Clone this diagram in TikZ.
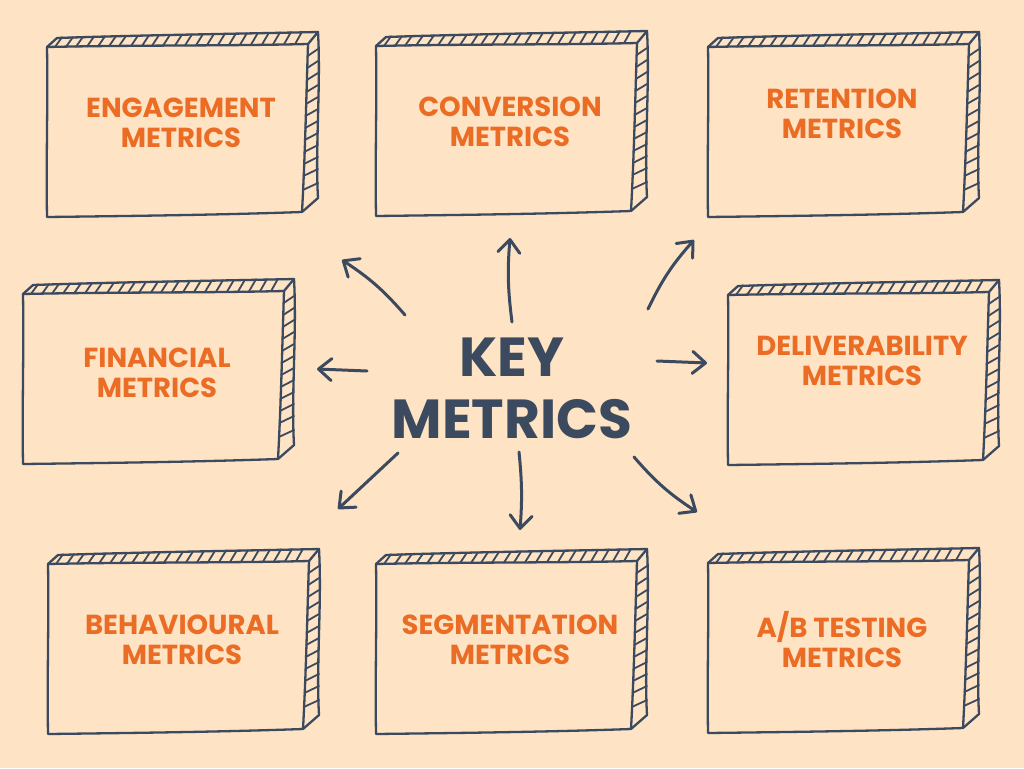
\documentclass[tikz,border=0pt]{standalone}
\usepackage{fontspec}
\setmainfont{Poppins}
\usetikzlibrary{arrows.meta}
\definecolor{peachBg}     {HTML}{FEE4C4}
\definecolor{slateInk}    {HTML}{3C4A5F}
\definecolor{metricOrange}{HTML}{EB6D25}
\tikzset{
  sketch/.style={draw=slateInk, line width=2.3pt, line join=round, line cap=round},
  hatch/.style={draw=slateInk, line width=1.8pt, line cap=round},
  metriclabel/.style={text=metricOrange, font=\fontsize{27.5}{30}\selectfont\bfseries,
    align=center, inner sep=0pt},
  keylabel/.style={text=slateInk, font=\fontsize{55}{62}\selectfont\bfseries,
    align=center, inner sep=0pt},
  flow/.style={draw=slateInk, line width=3pt, line cap=round,
    -{Straight Barb[length=13pt, width=22pt, round]}}
}
% #1 name, #2/#3 front top-left corner, #4 label height, #5 label
\newcommand{\metricbox}[5]{%
  \begin{scope}[shift={(#2,#3)}]
    % front face
    \draw[sketch] (0,0) .. controls (90,-2) and (180,-1) .. (261,-3)
      .. controls (259,60) and (258,110) .. (255,165)
      .. controls (170,168) and (80,169) .. (0,170)
      .. controls (-1,110) and (1,60) .. (0,0);
    % top face
    \draw[sketch] (0,0) -- (10,-9) .. controls (100,-12) and (180,-13) .. (271,-15) -- (261,-3);
    \foreach \hx in {8,19,29,40,51,62,72,84,95,105,116,128,138,149,
                     160,171,182,193,204,215,226,237,248}
      \draw[hatch] (\hx,{-\hx*0.0115}) -- ({\hx+7},{-9.5-\hx*0.023});
    % right face
    \draw[sketch] (271,-15) .. controls (274,40) and (268,100) .. (271,151) -- (255,165);
    \foreach \hy in {9,21,33,45,57,69,81,93,105,117,129,143}
      \draw[hatch] ({261-\hy*0.036},\hy) -- (271,{\hy-7});
  \end{scope}
  \node[metriclabel] (#1) at (#2+134,#3+#4) {#5};%
}

\begin{document}
\begin{tikzpicture}[x=1pt, y=-1pt]
\fill[peachBg] (0,0) rectangle (1024,768);
\useasboundingbox (0,0) rectangle (1024,768);

% --- BOXES ---
\metricbox{eng} {47} {47}{76}{ENGAGEMENT\\METRICS}
\metricbox{conv}{376}{46}{76}{CONVERSION\\METRICS}
\metricbox{ret} {708}{47}{67}{RETENTION\\METRICS}
\metricbox{fin} {23}{294}{79}{FINANCIAL\\METRICS}
\metricbox{del} {728}{295}{66}{DELIVERABILITY\\METRICS}
\metricbox{beh} {48}{564}{76}{BEHAVIOURAL\\METRICS}
\metricbox{seg} {376}{564}{76}{SEGMENTATION\\METRICS}
\metricbox{ab}  {708}{563}{77}{A/B TESTING\\METRICS}

% --- CENTRE ---
\node[keylabel] (key) at (512,388) {KEY\\METRICS};

% --- ARROWS ---
\coordinate (tEng)  at (405,315); \coordinate (hEng)  at (342,260);
\coordinate (tConv) at (512,322); \coordinate (hConv) at (510,238);
\coordinate (tRet)  at (648,309); \coordinate (hRet)  at (694,240);
\coordinate (tFin)  at (367,371); \coordinate (hFin)  at (317,369);
\coordinate (tDel)  at (657,361); \coordinate (hDel)  at (707,363);
\coordinate (tBeh)  at (398,453); \coordinate (hBeh)  at (338,509);
\coordinate (tSeg)  at (519,452); \coordinate (hSeg)  at (520,530);
\coordinate (tAb)   at (634,457); \coordinate (hAb)   at (697,512);
\foreach \src/\dst/\bnd in {tEng/hEng/-8, tConv/hConv/6, tRet/hRet/8,
  tFin/hFin/0, tDel/hDel/0, tBeh/hBeh/0, tSeg/hSeg/5, tAb/hAb/-8}
  \draw[flow] (\src) to[bend left=\bnd] (\dst);

\end{tikzpicture}
\end{document}
